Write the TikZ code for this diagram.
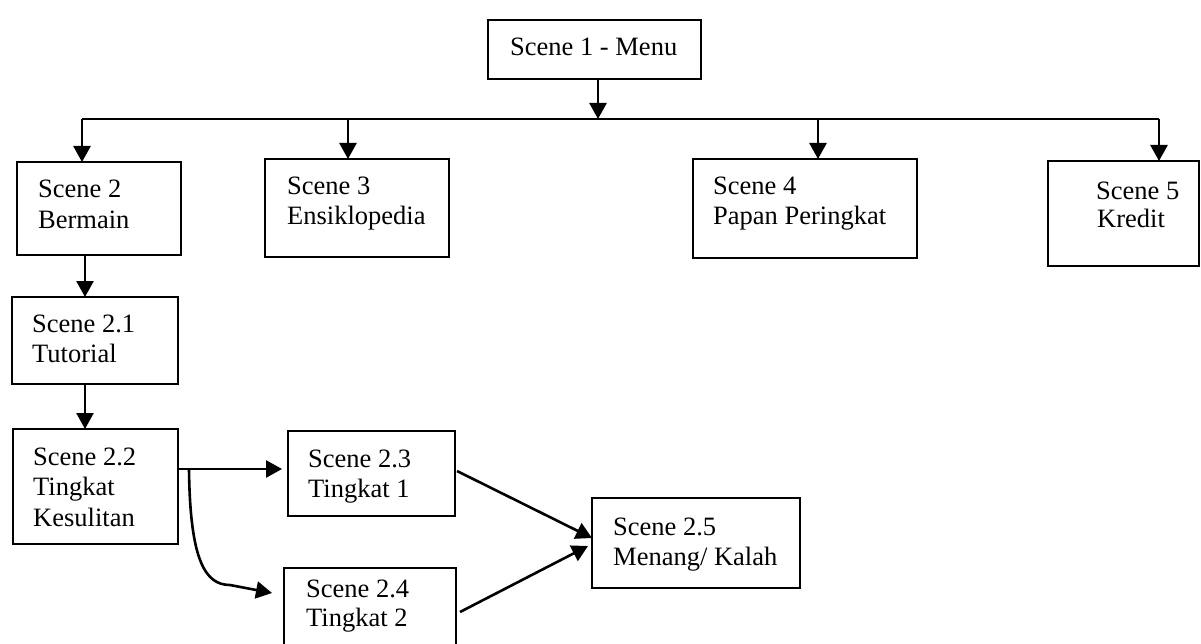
\documentclass[tikz,border=0pt]{standalone}
\usepackage{fontspec}
\setmainfont{Liberation Serif}
\usetikzlibrary{arrows.meta}
\tikzset{
  box/.style={draw=black, line width=2pt, inner sep=0pt, outer sep=0pt, anchor=north west, fill=none},
  lbl/.style={anchor=base west, inner sep=0pt, font=\fontsize{26.5pt}{30pt}\selectfont},
  conn/.style={line width=2.6pt, -{Triangle[length=16pt,width=17pt]}},
  plain/.style={line width=2.6pt},
}
\begin{document}
\begin{tikzpicture}[x=1pt, y=-1pt]
\useasboundingbox (0,0) rectangle (1201,644);
% boxes
\node[box, minimum width=213pt, minimum height=59pt] (s1) at (488,20) {};
\node[box, minimum width=164pt, minimum height=93pt] (s2) at (17,162) {};
\node[box, minimum width=184pt, minimum height=98pt] (s3) at (265,159) {};
\node[box, minimum width=224pt, minimum height=99pt] (s4) at (693,159) {};
\node[box, minimum width=151pt, minimum height=105pt] (s5) at (1048,161) {};
\node[box, minimum width=166pt, minimum height=87pt] (s21) at (12,297) {};
\node[box, minimum width=165pt, minimum height=115pt] (s22) at (13,429) {};
\node[box, minimum width=167pt, minimum height=85pt] (s23) at (288,431) {};
\node[box, minimum width=172pt, minimum height=100pt] (s24) at (284,568) {};
\node[box, minimum width=208pt, minimum height=90pt] (s25) at (592,498) {};
% texts
\node[lbl] (t1) at (510,56) {Scene 1 - Menu};
\node[lbl] (t2a) at (38,198) {Scene 2};
\node[lbl] (t2b) at (38,229) {Bermain};
\node[lbl] (t3a) at (287,195) {Scene 3};
\node[lbl] (t3b) at (287,225) {Ensiklopedia};
\node[lbl] (t4a) at (713,195) {Scene 4};
\node[lbl] (t4b) at (713,225) {Papan Peringkat};
\node[lbl] (t5a) at (1096,200) {Scene 5};
\node[lbl] (t5b) at (1097,228) {Kredit};
\node[lbl] (t21a) at (32,332) {Scene 2.1};
\node[lbl] (t21b) at (32,362) {Tutorial};
\node[lbl] (t22a) at (33,465) {Scene 2.2};
\node[lbl] (t22b) at (33,495) {Tingkat};
\node[lbl] (t22c) at (33,526) {Kesulitan};
\node[lbl] (t23a) at (308,467) {Scene 2.3};
\node[lbl] (t23b) at (308,497) {Tingkat 1};
\node[lbl] (t24a) at (306,597) {Scene 2.4};
\node[lbl] (t24b) at (306,626) {Tingkat 2};
\node[lbl] (t25a) at (613,535) {Scene 2.5};
\node[lbl] (t25b) at (613,565) {Menang/ Kalah};
% coordinates
\coordinate (m1) at (598,119);
\coordinate (b2) at (82,119);
\coordinate (b3) at (348,119);
\coordinate (b4) at (818,119);
\coordinate (b5) at (1159,119);
\coordinate (v1) at (85,0);
\coordinate (h1) at (178,469);
\coordinate (c1) at (189,469);
\coordinate (k1) at (230,585);
\coordinate (t24) at (272,593);
\coordinate (a1) at (457,471);
\coordinate (a2) at (592,538);
\coordinate (a3) at (460,612);
\coordinate (a4) at (588,546);
% connectors
\draw[conn] (m1 |- s1.south) -- (m1);
\draw[plain] (b2) -- (b5);
\draw[conn] (b2) -- (b2 |- s2.north);
\draw[conn] (b3) -- (b3 |- s3.north);
\draw[conn] (b4) -- (b4 |- s4.north);
\draw[conn] (b5) -- (b5 |- s5.north);
\draw[conn] (v1 |- s2.south) -- (v1 |- s21.north);
\draw[conn] (v1 |- s21.south) -- (v1 |- s22.north);
\draw[conn, shorten >=6pt] (h1) -- (h1 -| s23.west);
\draw[conn] (c1) .. controls (190,560) and (205,585) .. (k1) -- (t24);
\draw[conn] (a1) -- (a2);
\draw[conn] (a3) -- (a4);
\end{tikzpicture}
\end{document}
